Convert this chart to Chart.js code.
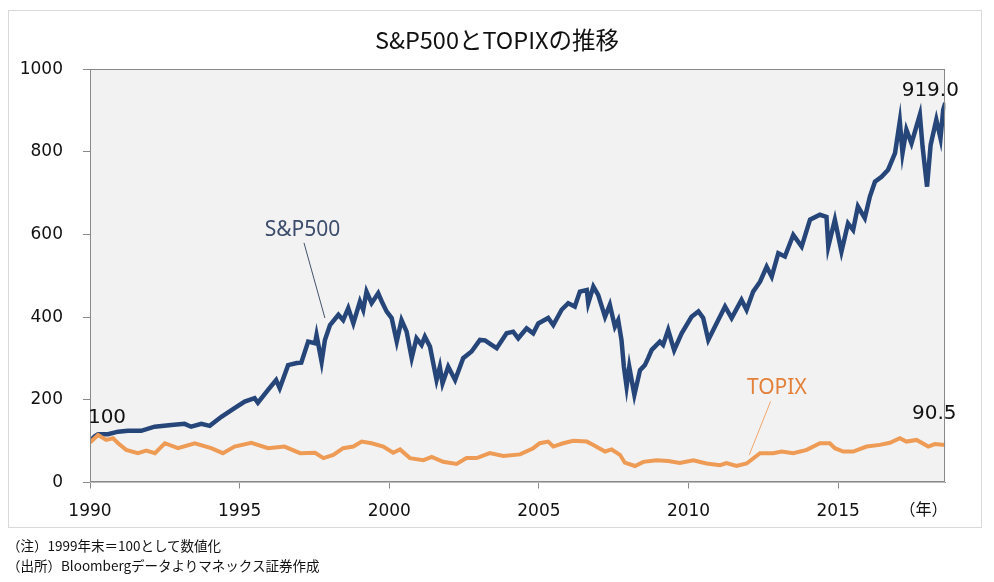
<!DOCTYPE html>
<html>
<head>
<meta charset="utf-8">
<script src="https://cdn.jsdelivr.net/npm/chart.js@4.4.1/dist/chart.umd.min.js"></script>
<style>
  html, body { margin: 0; padding: 0; background: #ffffff; }
  #wrap { position: relative; width: 994px; height: 582px; overflow: hidden; }
  #frame { position: absolute; left: 8px; top: 10px; width: 972px; height: 516px; border: 1px solid #d9d9d9; box-sizing: content-box; }
  canvas { position: absolute; left: 0; top: 0; }
  #title { position: absolute; left: 0; width: 994px; top: 24px; text-align: center;
           font-family: "Noto Sans CJK JP", "Noto Sans", sans-serif; font-size: 23.5px; line-height: 30px; color: #111; }
  .note { position: absolute; left: 7px; font-family: "Noto Sans CJK JP", sans-serif; font-size: 13.5px; line-height: 20px; color: #111; white-space: nowrap; }
</style>
</head>
<body>
<div id="wrap">
  <div id="frame"></div>
  <canvas id="c" width="994" height="582"></canvas>
  <div id="title">S&amp;P500とTOPIXの推移</div>
  <div class="note" style="top:535px">（注）1999年末＝100として数値化</div>
  <div class="note" style="top:555px">（出所）Bloombergデータよりマネックス証券作成</div>
</div>
<script>
// ---- data ----
const xTickYears = [1990, 1995, 2000, 2005, 2010, 2015];
const yTickValues = [0, 200, 400, 600, 800, 1000];

const sp500Years = [
  1990.00,1990.16,1990.27,1990.60,1990.94,1991.27,1991.71,1992.16,1992.72,1993.16,
  1993.38,1993.72,1994.00,1994.39,1994.83,1995.17,1995.50,1995.61,1995.95,1996.22,
  1996.34,1996.62,1996.91,1997.06,1997.29,1997.52,1997.57,1997.74,1997.85,1998.02,
  1998.30,1998.46,1998.63,1998.80,1999.02,1999.13,1999.24,1999.41,1999.63,1999.75,
  1999.91,2000.08,2000.25,2000.41,2000.58,2000.75,2000.91,2001.08,2001.19,2001.36,
  2001.58,2001.69,2001.78,2001.97,2002.20,2002.47,2002.75,2003.03,2003.20,2003.42,
  2003.59,2003.92,2004.14,2004.31,2004.59,2004.81,2004.98,2005.31,2005.48,2005.76,
  2005.98,2006.20,2006.37,2006.60,2006.65,2006.82,2006.98,2007.21,2007.37,2007.54,
  2007.65,2007.76,2007.84,2007.93,2008.02,2008.19,2008.38,2008.54,2008.65,2008.77,
  2009.04,2009.15,2009.32,2009.52,2009.77,2010.10,2010.33,2010.49,2010.66,2010.88,
  2011.22,2011.44,2011.77,2011.94,2012.16,2012.39,2012.61,2012.78,2013.00,2013.22,
  2013.50,2013.78,2014.06,2014.39,2014.61,2014.67,2014.89,2015.11,2015.33,2015.50,
  2015.66,2015.89,2016.06,2016.23,2016.45,2016.67,2016.90,2017.06,2017.15,2017.28,
  2017.45,2017.73,2017.82,2017.97,2018.09,2018.28,2018.42,2018.51,2018.58
];
const sp500Values = [
  100,112,117,117,123,125,125,135,139,142,
  135,142,137,159,180,196,204,193,224,248,
  228,284,289,290,341,337,357,292,345,381,
  406,393,422,385,438,418,462,434,458,438,
  414,398,341,393,365,301,349,333,353,329,
  248,280,240,280,248,301,317,345,344,333,
  325,361,365,349,373,361,385,398,381,418,
  434,426,462,466,434,474,454,401,430,377,
  393,345,280,232,280,212,272,284,301,321,
  341,333,369,320,361,401,414,398,345,377,
  426,398,442,418,462,486,522,498,555,547,
  599,571,636,648,643,571,636,559,627,611,
  668,640,692,728,740,757,797,874,797,854,
  821,890,813,716,817,878,833,902,919
];

const topixYears = [
  1990.00,1990.27,1990.54,1990.77,1990.94,1991.21,1991.60,1991.88,1992.17,1992.50,
  1992.94,1993.50,1994.05,1994.44,1994.83,1995.39,1995.95,1996.50,1997.02,1997.52,
  1997.80,1998.13,1998.46,1998.80,1999.08,1999.41,1999.80,2000.13,2000.36,2000.69,
  2001.14,2001.42,2001.80,2002.25,2002.58,2002.92,2003.36,2003.81,2004.37,2004.81,
  2005.03,2005.31,2005.48,2005.81,2006.15,2006.60,2006.82,2007.21,2007.43,2007.71,
  2007.87,2008.21,2008.49,2008.93,2009.32,2009.71,2010.16,2010.60,2011.05,2011.27,
  2011.60,2011.94,2012.39,2012.83,2013.11,2013.50,2013.95,2014.39,2014.72,2014.89,
  2015.17,2015.50,2015.95,2016.39,2016.73,2017.06,2017.28,2017.62,2018.01,2018.23,
  2018.58
];
const topixValues = [
  97,115,103,107,95,79,71,77,71,95,
  83,95,83,71,87,96,83,87,71,72,
  59,67,83,87,99,95,87,72,80,59,
  54,62,50,45,59,59,71,64,68,83,
  95,99,87,95,101,99,91,75,80,67,
  48,40,50,54,52,47,54,46,42,47,
  40,46,71,71,75,71,79,95,95,83,
  75,75,87,91,96,107,99,103,87,93,
  90.5
];

const xMin = 1990, xMax = 2018.58;
const SP_COLOR = '#26467a';
const TP_COLOR = '#ee9b55';
const NUM_FONT = '"DejaVu Sans", Verdana, sans-serif';

function toPoints(xs, ys) { return xs.map((x, i) => ({ x: x, y: ys[i] })); }

const decor = {
  id: 'decor',
  beforeDatasetsDraw(chart) {
    const { ctx, chartArea: a } = chart;
    ctx.save();
    ctx.fillStyle = '#f2f2f2';
    ctx.fillRect(a.left, a.top, a.right - a.left, a.bottom - a.top);
    ctx.restore();
  },
  afterDatasetsDraw(chart) {
    const { ctx, chartArea: a, scales } = chart;
    const xs = scales.x, ys = scales.y;
    const px = v => xs.getPixelForValue(v), py = v => ys.getPixelForValue(v);
    ctx.save();
    // plot border
    ctx.strokeStyle = '#898989';
    ctx.lineWidth = 1;
    ctx.strokeRect(Math.round(a.left) + 0.5, Math.round(a.top) + 0.5,
                   Math.round(a.right - a.left) - 1, Math.round(a.bottom - a.top) - 1);

    // value labels anchored to data
    ctx.font = '20px ' + NUM_FONT;
    ctx.fillStyle = '#111';
    ctx.textBaseline = 'middle';
    ctx.textAlign = 'center';
    ctx.fillText(String(sp500Values[0]), px(sp500Years[0]) + 17, py(sp500Values[0]) - 23);
    const spLast = sp500Values[sp500Values.length - 1];
    ctx.fillText(spLast.toFixed(1), px(sp500Years[sp500Years.length - 1]) - 15, py(spLast) - 12);
    const tpLast = topixValues[topixValues.length - 1];
    ctx.fillText(tpLast.toFixed(1), px(topixYears[topixYears.length - 1]) - 11, py(tpLast) - 31);

    // series labels with leader lines
    ctx.font = '21px "Noto Sans", "DejaVu Sans", sans-serif';
    ctx.fillStyle = '#3b4c6b';
    ctx.fillText('S&P500', px(1997.1), py(610));
    ctx.strokeStyle = '#44546a';
    ctx.beginPath();
    ctx.moveTo(px(1997.15), py(580));
    ctx.lineTo(px(1997.85), py(398));
    ctx.stroke();

    ctx.fillStyle = '#e3803a';
    ctx.fillText('TOPIX', px(2012.95), py(229));
    ctx.strokeStyle = '#f2a66a';
    ctx.beginPath();
    ctx.moveTo(px(2012.74), py(196));
    ctx.lineTo(px(2012.03), py(67));
    ctx.stroke();

    // year unit label
    ctx.font = '16px "Noto Sans CJK JP", sans-serif';
    ctx.fillStyle = '#111';
    ctx.fillText('（年）', px(2017.85), 509);
    ctx.restore();
  }
};

new Chart(document.getElementById('c'), {
  type: 'line',
  data: {
    datasets: [
      { label: 'TOPIX', data: toPoints(topixYears, topixValues), borderColor: TP_COLOR,
        borderWidth: 4, pointRadius: 0, tension: 0, fill: false, order: 0 },
      { label: 'S&P500', data: toPoints(sp500Years, sp500Values), borderColor: SP_COLOR,
        borderWidth: 4.5, pointRadius: 0, tension: 0, fill: false, order: 1 }
    ]
  },
  options: {
    responsive: false,
    animation: false,
    layout: { padding: { top: 69.3, right: 48.7, left: 0, bottom: 0 } },
    plugins: { legend: { display: false }, title: { display: false }, tooltip: { enabled: false } },
    scales: {
      x: {
        type: 'linear', min: xMin, max: xMax,
        afterBuildTicks: s => { s.ticks = xTickYears.map(v => ({ value: v })); },
        afterFit: s => { s.height = 99.5; },
        ticks: { callback: v => String(v), font: { family: NUM_FONT, size: 17 }, color: '#111', padding: 13, maxRotation: 0, autoSkip: false },
        grid: { drawOnChartArea: false, tickLength: 6, color: '#898989' },
        border: { color: '#898989' }
      },
      y: {
        min: 0, max: 1000,
        afterBuildTicks: s => { s.ticks = yTickValues.map(v => ({ value: v })); },
        afterFit: s => { s.width = 90; },
        ticks: { callback: v => String(v), font: { family: NUM_FONT, size: 17 }, color: '#111', padding: 20 },
        grid: { drawOnChartArea: false, tickLength: 7, color: '#898989' },
        border: { color: '#898989' }
      }
    }
  },
  plugins: [decor]
});
</script>
</body>
</html>
